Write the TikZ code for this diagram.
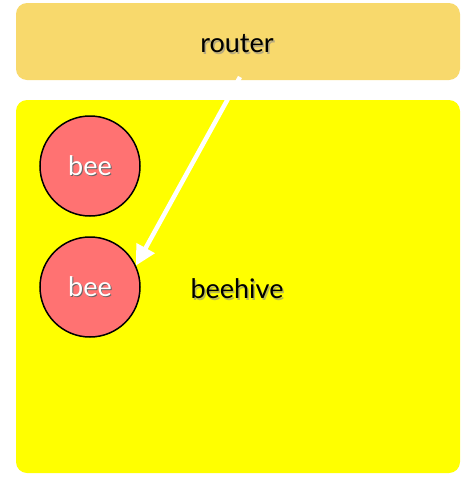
\documentclass[tikz,border=0pt]{standalone}
\usepackage{fontspec}
\setmainfont{Lato}
\definecolor{routerfill}{HTML}{F8D96C}
\definecolor{hivefill}{HTML}{FFFF00}
\definecolor{beefill}{HTML}{FF7272}
\tikzset{
  panel/.style={rounded corners=11pt, draw=none},
  beenode/.style={circle, draw=black, line width=1.5pt, fill=beefill, minimum size=100pt, inner sep=0pt},
  bigtext/.style={font=\fontsize{27}{30}\selectfont},
  flow/.style={white, line width=4.5pt, -{Triangle[length=20pt,width=20pt]}}
}
\usetikzlibrary{arrows.meta}
\begin{document}
\begin{tikzpicture}[x=1pt,y=-1pt]
\useasboundingbox (0,0) rectangle (476,477);
\fill[white] (0,0) rectangle (476,477);
\fill[panel, routerfill] (16,3) rectangle (460,80);
\fill[panel, hivefill] (16,100) rectangle (460,473);
\node[bigtext, text=black!45, opacity=0.6] at (238.5,45.5) {router};
\node[bigtext, text=black] (router) at (237,44) {router};
\node[bigtext, text=black!45, opacity=0.6] at (238.5,290.5) {beehive};
\node[bigtext, text=black] (hive) at (237,289) {beehive};
\node[beenode] (bee1) at (90,166) {};
\node[beenode] (bee2) at (90,287) {};
\node[bigtext, text=black!60] at (91,167) {bee};
\node[bigtext, text=black!60] at (91,288) {bee};
\node[bigtext, text=white] (t1) at (bee1) {bee};
\node[bigtext, text=white] (t2) at (bee2) {bee};
\coordinate (start) at (240,77);
\draw[flow] (start) -- (bee2.25);
\end{tikzpicture}
\end{document}
